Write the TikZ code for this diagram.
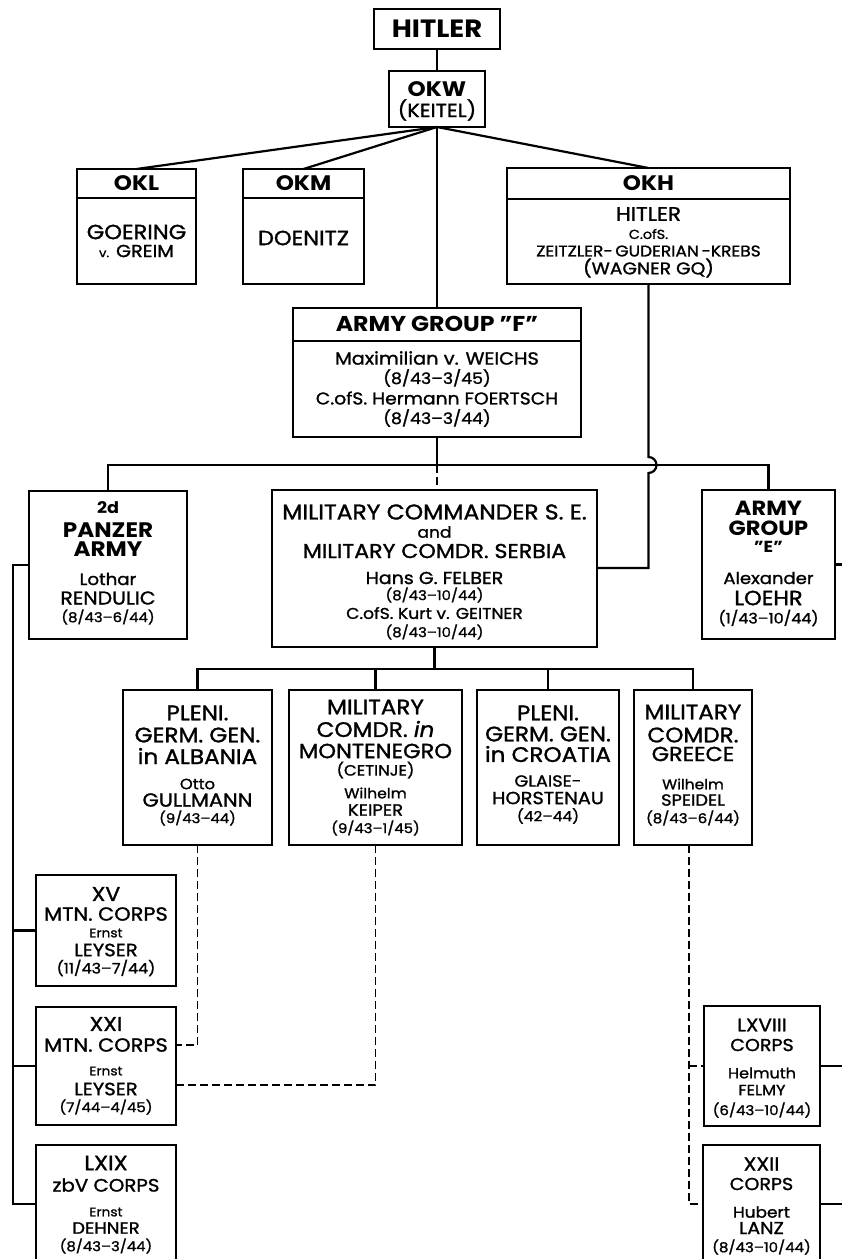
\documentclass[tikz,border=0pt]{standalone}
\usepackage{fontspec}
\setmainfont{Poppins}[FakeStretch=1.1,UprightFeatures={FakeBold=1.3},ItalicFeatures={FakeBold=1.3}]
\newcommand\rsz[1]{\fontsize{#1}{#1}\selectfont}
\newcommand\bsz[1]{\fontsize{#1}{#1}\selectfont\bfseries}
\newcommand\bx[5]{\node[box,minimum width={(#4-#2)*1pt},minimum height={(#5-#3)*1pt}] (#1) at ({(#2+#4)/2},{(#3+#5)/2}) {};}
\newcommand\lne[5]{\node[txt,font=#3] (#1) at (#2 |- 0,#4) {#5};}
\begin{document}
\begin{tikzpicture}[x=1pt,y=-1pt,
 box/.style={draw,line width=1.4pt,inner sep=0pt,outer sep=0pt},
 divl/.style={line width=1.4pt},
 conn/.style={line width=2.2pt},
 dconn/.style={line width=1.3pt,dash pattern=on 8pt off 4pt},
 txt/.style={inner sep=0pt,align=center}]
\fill[white] (0,0) rectangle (842,1259);
\useasboundingbox (0,0) rectangle (842,1259);
% boxes
\bx{hitler}{374}{9}{500}{49}
\bx{okw}{389}{71}{485}{127}
\bx{okl}{77}{169}{196}{284}
\bx{okm}{243}{169}{364}{284}
\bx{okh}{507}{168}{790}{284}
\bx{agf}{293}{308}{581}{437}
\bx{pz}{29}{491}{187}{639}
\bx{mc}{272}{490}{597}{647}
\bx{age}{702}{490}{835}{639}
\bx{alb}{123}{690}{272}{845}
\bx{mon}{289}{690}{462}{845}
\bx{cro}{477}{690}{619}{845}
\bx{gre}{634}{690}{752}{845}
\bx{xv}{36}{875}{176}{986}
\bx{xxi}{36}{1007}{176}{1125}
\bx{lxix}{36}{1145}{176}{1263}
\bx{lxviii}{704}{1006}{820}{1126}
\bx{xxii}{703}{1145}{820}{1263}
% header dividers
\draw[divl] (okl.west |- 0,198) -- (okl.east |- 0,198);
\draw[divl] (okm.west |- 0,198) -- (okm.east |- 0,198);
\draw[divl] (okh.west |- 0,199) -- (okh.east |- 0,199);
\draw[divl] (agf.west |- 0,341) -- (agf.east |- 0,341);
% coordinates
\coordinate (hl) at (0,465);
\coordinate (lb) at (13,0);
\coordinate (rb) at (0,669);
\coordinate (rx) at (842,0);
% connectors
\draw[conn] (hitler.south) -- (okw.north);
\draw[conn] (okw.south) -- (okl.north);
\draw[conn] (okw.south) -- (okm.north);
\draw[conn] (okw.south) -- (okh.north);
\draw[conn] (okw.south) -- (agf.north);
\draw[conn] (pz.north) -- (pz.north |- hl) -- (age.north |- hl) -- (age.north);
\draw[conn] (agf.south) -- (agf.south |- hl);
\draw[dconn] (agf.south |- hl) -- (agf.south |- mc.north);
\draw[conn] (okh.south) -- (okh.south |- 0,457) arc[start angle=90,end angle=-90,radius=8pt] -- (okh.south |- 0,568) -- (mc.east |- 0,568);
\draw[conn] (pz.west) -- (pz.west -| lb) -- (lb |- lxix.west) -- (lxix.west);
\draw[conn] (lb |- xv.west) -- (xv.west);
\draw[conn] (lb |- xxi.west) -- (xxi.west);
\draw[conn] (mc.south) -- (mc.south |- rb);
\draw[conn] (alb.north) -- (alb.north |- rb) -- (gre.north |- rb) -- (gre.north);
\draw[conn] (mon.north) -- (mon.north |- rb);
\draw[conn] (cro.north) -- (cro.north |- rb);
\draw[conn] (age.east) -- (age.east -| rx);
\draw[conn] (lxviii.east) -- (lxviii.east -| rx);
\draw[conn] (xxii.east) -- (xxii.east -| rx);
\draw[dconn] (alb.south) -- (alb.south |- 0,1045) -- (xxi.east |- 0,1045);
\draw[dconn] (mon.south) -- (mon.south |- 0,1085) -- (xxi.east |- 0,1085);
\coordinate (gd) at ([xshift=-4pt]gre.south);
\draw[dconn] (gd) -- (gd |- xxii.west) -- (xxii.west);
\draw[dconn] (gd |- lxviii.west) -- (lxviii.west);
% texts
\lne{t-hitler}{hitler}{\bsz{25}}{29}{HITLER}
\lne{t-okw1}{okw}{\bsz{21}}{89}{OKW}
\lne{t-okw2}{okw}{\rsz{19}}{110}{(KEITEL)}
\lne{t-okl1}{okl}{\bsz{21}}{183}{OKL}
\lne{t-okl2}{okl}{\rsz{20.5}}{232}{GOERING}
\lne{t-okl3}{okl}{\rsz{17.5}}{251}{{\rsz{12}v.} GREIM}
\lne{t-okm1}{okm}{\bsz{21}}{183}{OKM}
\lne{t-okm2}{okm}{\rsz{20.5}}{238}{DOENITZ}
\lne{t-okh1}{okh}{\bsz{21}}{183}{OKH}
\lne{t-okh2}{okh}{\rsz{19.5}}{214}{HITLER}
\lne{t-okh3}{okh}{\rsz{13}}{234}{C.ofS.}
\lne{t-okh4}{okh}{\rsz{15.5}}{251}{ZEITZLER-\,GUDERIAN\,-KREBS}
\lne{t-okh5}{okh}{\rsz{17}}{268}{(WAGNER GQ)}
\lne{t-agf1}{agf}{\bsz{21.5}}{324}{ARMY GROUP "F"}
\lne{t-agf2}{agf}{\rsz{17.6}}{358}{Maximilian v. WEICHS}
\lne{t-agf3}{agf}{\rsz{15.7}}{378}{(8/43--3/45)}
\lne{t-agf4}{agf}{\rsz{17}}{398}{C.ofS. Hermann FOERTSCH}
\lne{t-agf5}{agf}{\rsz{15.7}}{418}{(8/43--3/44)}
\lne{t-pz1}{pz}{\bsz{16}}{508}{2d}
\lne{t-pz2}{pz}{\bsz{21}}{530}{PANZER}
\lne{t-pz3}{pz}{\bsz{21}}{549}{ARMY}
\lne{t-pz4}{pz}{\rsz{16.5}}{579}{Lothar}
\lne{t-pz5}{pz}{\rsz{18.6}}{598}{RENDULIC}
\lne{t-pz6}{pz}{\rsz{13.5}}{617}{(8/43--6/44)}
\lne{t-age1}{age}{\bsz{20.5}}{508}{ARMY}
\lne{t-age2}{age}{\bsz{20.5}}{528}{GROUP}
\lne{t-age3}{age}{\bsz{16}}{547}{"E"}
\lne{t-age4}{age}{\rsz{16.4}}{578}{Alexander}
\lne{t-age5}{age}{\rsz{20.5}}{598}{LOEHR}
\lne{t-age6}{age}{\rsz{14.5}}{618}{(1/43--10/44)}
\lne{t-mc1}{mc}{\rsz{21.3}}{512}{MILITARY COMMANDER S. E.}
\lne{t-mc2}{mc}{\rsz{15.5}}{532}{and}
\lne{t-mc3}{mc}{\rsz{20.1}}{551}{MILITARY COMDR. SERBIA}
\lne{t-mc4}{mc}{\rsz{17.3}}{578}{Hans G. FELBER}
\lne{t-mc5}{mc}{\rsz{13.5}}{595}{(8/43--10/44)}
\lne{t-mc6}{mc}{\rsz{15.6}}{613}{C.ofS. Kurt v. GEITNER}
\lne{t-mc7}{mc}{\rsz{13.5}}{632}{(8/43--10/44)}
\lne{t-alb1}{alb}{\rsz{21}}{713}{PLENI.}
\lne{t-alb2}{alb}{\rsz{21}}{735}{GERM. GEN.}
\lne{t-alb3}{alb}{\rsz{21}}{756}{in ALBANIA}
\lne{t-alb4}{alb}{\rsz{14.8}}{784}{Otto}
\lne{t-alb5}{alb}{\rsz{19}}{800}{GULLMANN}
\lne{t-alb6}{alb}{\rsz{13.5}}{818}{(9/43--44)}
\lne{t-mon1}{mon}{\rsz{21}}{707}{MILITARY}
\lne{t-mon2}{mon}{\rsz{21}}{729}{COMDR. {\itshape in}}
\lne{t-mon3}{mon}{\rsz{20.5}}{751}{MONTENEGRO}
\lne{t-mon4}{mon}{\rsz{15}}{770}{(CETINJE)}
\lne{t-mon5}{mon}{\rsz{14.2}}{793}{Wilhelm}
\lne{t-mon6}{mon}{\rsz{16.4}}{810}{KEIPER}
\lne{t-mon7}{mon}{\rsz{13.5}}{828}{(9/43--1/45)}
\lne{t-cro1}{cro}{\rsz{21}}{713}{PLENI.}
\lne{t-cro2}{cro}{\rsz{21}}{734}{GERM. GEN.}
\lne{t-cro3}{cro}{\rsz{21}}{754}{in CROATIA}
\lne{t-cro4}{cro}{\rsz{16.1}}{781}{GLAISE-}
\lne{t-cro5}{cro}{\rsz{17.6}}{798}{HORSTENAU}
\lne{t-cro6}{cro}{\rsz{14}}{816}{(42--44)}
\lne{t-gre1}{gre}{\rsz{21}}{712}{MILITARY}
\lne{t-gre2}{gre}{\rsz{21}}{735}{COMDR.}
\lne{t-gre3}{gre}{\rsz{20.3}}{754}{GREECE}
\lne{t-gre4}{gre}{\rsz{14}}{784}{Wilhelm}
\lne{t-gre5}{gre}{\rsz{16.2}}{800}{SPEIDEL}
\lne{t-gre6}{gre}{\rsz{13.6}}{818}{(8/43--6/44)}
\lne{t-xv1}{xv}{\rsz{20}}{894}{XV}
\lne{t-xv2}{xv}{\rsz{19}}{914}{MTN. CORPS}
\lne{t-xv3}{xv}{\rsz{12.5}}{933}{Ernst}
\lne{t-xv4}{xv}{\rsz{17.8}}{950}{LEYSER}
\lne{t-xv5}{xv}{\rsz{14.5}}{968}{(11/43--7/44)}
\lne{t-xxi1}{xxi}{\rsz{20}}{1024}{XXI}
\lne{t-xxi2}{xxi}{\rsz{19}}{1045}{MTN. CORPS}
\lne{t-xxi3}{xxi}{\rsz{12.5}}{1071}{Ernst}
\lne{t-xxi4}{xxi}{\rsz{17.8}}{1089}{LEYSER}
\lne{t-xxi5}{xxi}{\rsz{13.6}}{1107}{(7/44--4/45)}
\lne{t-lxix1}{lxix}{\rsz{20.5}}{1163}{LXIX}
\lne{t-lxix2}{lxix}{\rsz{18}}{1185}{zbV CORPS}
\lne{t-lxix3}{lxix}{\rsz{12.5}}{1212}{Ernst}
\lne{t-lxix4}{lxix}{\rsz{16.4}}{1228}{DEHNER}
\lne{t-lxix5}{lxix}{\rsz{13.5}}{1246}{(8/43--3/44)}
\lne{t-lxviii1}{lxviii}{\rsz{18.2}}{1025}{LXVIII}
\lne{t-lxviii2}{lxviii}{\rsz{17.3}}{1045}{CORPS}
\lne{t-lxviii3}{lxviii}{\rsz{14.6}}{1073}{Helmuth}
\lne{t-lxviii4}{lxviii}{\rsz{14.8}}{1090}{FELMY}
\lne{t-lxviii5}{lxviii}{\rsz{13.6}}{1110}{(6/43--10/44)}
\lne{t-xxii1}{xxii}{\rsz{18.8}}{1164}{XXII}
\lne{t-xxii2}{xxii}{\rsz{17.3}}{1184}{CORPS}
\lne{t-xxii3}{xxii}{\rsz{15.4}}{1212}{Hubert}
\lne{t-xxii4}{xxii}{\rsz{17.3}}{1228}{LANZ}
\lne{t-xxii5}{xxii}{\rsz{13.6}}{1247}{(8/43--10/44)}
\end{tikzpicture}
\end{document}
